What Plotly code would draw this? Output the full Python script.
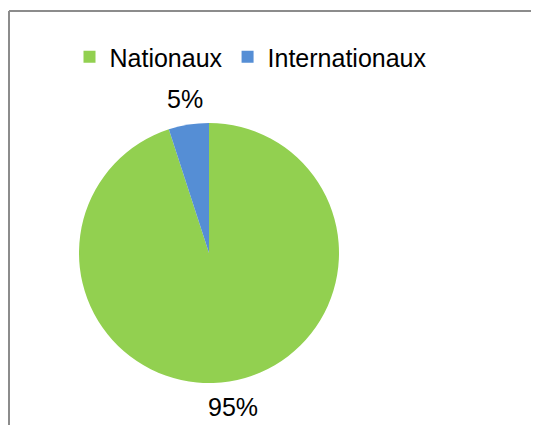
import math
import plotly.graph_objects as go

labels = ["Nationaux", "Internationaux"]
values = [95, 5]
colors = ["#92D050", "#558ED5"]

W, H = 539, 425
# the page body adds an 8px offset, so positions below are page pixels minus 8
OFF = 8
cx, cy, r = 209 - OFF, 253 - OFF, 130
r_lab = 156  # distance of the percent labels' centres from the pie centre

fig = go.Figure()
fig.add_trace(go.Pie(
    labels=labels,
    values=values,
    sort=False,
    direction="clockwise",
    rotation=0,
    marker=dict(colors=colors, line=dict(width=0)),
    textinfo="none",
    hoverinfo="label+percent",
    domain=dict(x=[(cx - r) / W, (cx + r) / W],
                y=[1 - (cy + r) / H, 1 - (cy - r) / H]),
    automargin=False,
))

# percent labels centred on each slice's mid-angle, outside the pie
total = sum(values)
cum = 0
for v in values:
    mid = (cum + v / 2) / total * 2 * math.pi  # clockwise from 12 o'clock
    cum += v
    px_ = cx + r_lab * math.sin(mid)
    py_ = cy - r_lab * math.cos(mid)
    fig.add_annotation(
        x=px_ / W, y=1 - py_ / H, xref="paper", yref="paper",
        text=f"{round(100 * v / total)}%", showarrow=False,
        xanchor="center", yanchor="middle",
        font=dict(size=25, color="#000000"),
    )

# frame of the chart area (only left and top edges are visible)
fig.add_shape(type="line", xref="paper", yref="paper",
              x0=1 / W, x1=1, y0=1 - 3 / H, y1=1 - 3 / H,
              line=dict(color="#8c8c8c", width=2))
fig.add_shape(type="line", xref="paper", yref="paper",
              x0=1 / W, x1=1 / W, y0=-0.05, y1=1 - 3 / H,
              line=dict(color="#8c8c8c", width=2))

fig.update_layout(
    width=W, height=H,
    margin=dict(l=0, r=0, t=0, b=0),
    paper_bgcolor="white",
    plot_bgcolor="white",
    font=dict(family="Liberation Sans, Arial, sans-serif", size=25, color="#000000"),
    showlegend=True,
    legend=dict(
        orientation="h",
        x=243 / W, xanchor="center",
        y=1 - (57 - OFF) / H, yanchor="middle",
        font=dict(size=25),
        itemclick=False,
        bgcolor="rgba(0,0,0,0)",
    ),
)

fig.write_html("out.html")
